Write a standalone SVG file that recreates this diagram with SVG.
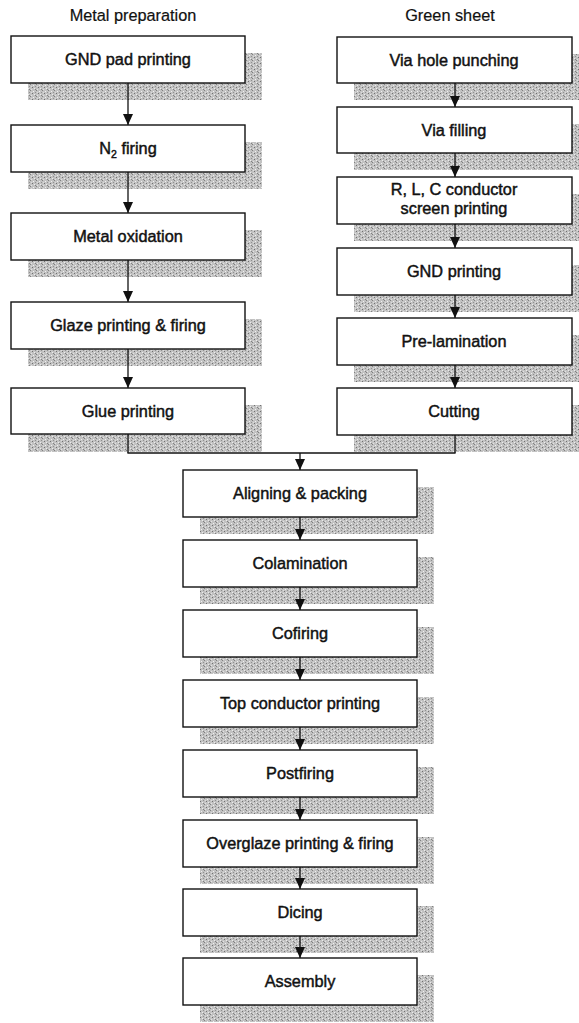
<svg xmlns="http://www.w3.org/2000/svg" width="579" height="1023" viewBox="0 0 579 1023">
<style>
.box{fill:#fff;stroke:#111;stroke-width:1.4}
.sh{fill:url(#stip)}
.t{font-family:"Liberation Sans",Arial,sans-serif;font-size:16.3px;fill:#111;stroke:#111;stroke-width:0.45;text-anchor:middle}
.h{font-family:"Liberation Sans",Arial,sans-serif;font-size:16.3px;fill:#111;stroke:#111;stroke-width:0.2;text-anchor:middle}
.c{fill:none;stroke:#111;stroke-width:1.3}
</style>
<defs>
<pattern id="stip" width="6" height="6" patternUnits="userSpaceOnUse">
<rect width="6" height="6" fill="#c2c2c2"/>
<rect x="0" y="0" width="1" height="1" fill="#808080"/>
<rect x="3" y="1" width="1" height="1" fill="#f0f0f0"/>
<rect x="2" y="3" width="1" height="1" fill="#707070"/>
<rect x="5" y="2" width="1" height="1" fill="#909090"/>
<rect x="4" y="4" width="1" height="1" fill="#ececec"/>
<rect x="1" y="5" width="1" height="1" fill="#e4e4e4"/>
<rect x="5" y="5" width="1" height="1" fill="#808080"/>
<rect x="1" y="2" width="1" height="1" fill="#dcdcdc"/>
</pattern>
<marker id="ah" markerUnits="userSpaceOnUse" markerWidth="11" markerHeight="11" refX="11" refY="5" orient="auto">
<path d="M0,0 L11,5 L0,10 z" fill="#111"/>
</marker>
</defs>

<text class="h" x="133" y="21">Metal preparation</text>
<text class="h" x="450" y="21">Green sheet</text>

<g id="shadows">
<rect class="sh" x="28" y="53" width="234" height="47"/>
<rect class="sh" x="28" y="142" width="234" height="47"/>
<rect class="sh" x="28" y="230" width="234" height="47"/>
<rect class="sh" x="28" y="319" width="234" height="47"/>
<rect class="sh" x="28" y="405" width="234" height="47"/>
<rect class="sh" x="354" y="54" width="235" height="46"/>
<rect class="sh" x="354" y="124" width="235" height="46"/>
<rect class="sh" x="354" y="194" width="235" height="47"/>
<rect class="sh" x="354" y="265" width="235" height="47"/>
<rect class="sh" x="354" y="335" width="235" height="47"/>
<rect class="sh" x="354" y="405" width="235" height="47"/>
<rect class="sh" x="200" y="487" width="234" height="47"/>
<rect class="sh" x="200" y="557" width="234" height="47"/>
<rect class="sh" x="200" y="627" width="234" height="47"/>
<rect class="sh" x="200" y="697" width="234" height="47"/>
<rect class="sh" x="200" y="767" width="234" height="47"/>
<rect class="sh" x="200" y="837" width="234" height="47"/>
<rect class="sh" x="200" y="906" width="234" height="47"/>
<rect class="sh" x="200" y="975" width="234" height="47"/>
</g>

<g id="connectors">
<line class="c" x1="128" y1="83" x2="128" y2="125" marker-end="url(#ah)"/>
<line class="c" x1="128" y1="172" x2="128" y2="213" marker-end="url(#ah)"/>
<line class="c" x1="128" y1="260" x2="128" y2="302" marker-end="url(#ah)"/>
<line class="c" x1="128" y1="349" x2="128" y2="388" marker-end="url(#ah)"/>
<line class="c" x1="128" y1="434" x2="128" y2="453"/>
<line class="c" x1="455" y1="83" x2="455" y2="107" marker-end="url(#ah)"/>
<line class="c" x1="455" y1="153" x2="455" y2="177" marker-end="url(#ah)"/>
<line class="c" x1="455" y1="224" x2="455" y2="248" marker-end="url(#ah)"/>
<line class="c" x1="455" y1="295" x2="455" y2="318" marker-end="url(#ah)"/>
<line class="c" x1="455" y1="365" x2="455" y2="388" marker-end="url(#ah)"/>
<line class="c" x1="455" y1="435" x2="455" y2="453"/>
<line class="c" x1="127.4" y1="453" x2="455.6" y2="453"/>
<line class="c" x1="300" y1="453" x2="300" y2="470" marker-end="url(#ah)"/>
<line class="c" x1="300" y1="517" x2="300" y2="540" marker-end="url(#ah)"/>
<line class="c" x1="300" y1="587" x2="300" y2="610" marker-end="url(#ah)"/>
<line class="c" x1="300" y1="657" x2="300" y2="680" marker-end="url(#ah)"/>
<line class="c" x1="300" y1="727" x2="300" y2="750" marker-end="url(#ah)"/>
<line class="c" x1="300" y1="797" x2="300" y2="820" marker-end="url(#ah)"/>
<line class="c" x1="300" y1="867" x2="300" y2="889" marker-end="url(#ah)"/>
<line class="c" x1="300" y1="936" x2="300" y2="958" marker-end="url(#ah)"/>
</g>

<g id="n_gnd_pad"><rect class="box" x="11" y="36" width="234" height="47"/><text class="t" x="128" y="65">GND pad printing</text></g>
<g id="n_n2_firing"><rect class="box" x="11" y="125" width="234" height="47"/><text class="t" x="128" y="154">N<tspan font-size="10.5" dy="4">2</tspan><tspan dy="-4"> firing</tspan></text></g>
<g id="n_metal_oxidation"><rect class="box" x="11" y="213" width="234" height="47"/><text class="t" x="128" y="242">Metal oxidation</text></g>
<g id="n_glaze"><rect class="box" x="11" y="302" width="234" height="47"/><text class="t" x="128" y="331">Glaze printing &amp; firing</text></g>
<g id="n_glue"><rect class="box" x="11" y="388" width="234" height="46"/><text class="t" x="128" y="417">Glue printing</text></g>

<g id="n_via_punch"><rect class="box" x="337" y="37" width="235" height="46"/><text class="t" x="454" y="66">Via hole punching</text></g>
<g id="n_via_fill"><rect class="box" x="337" y="107" width="235" height="46"/><text class="t" x="454" y="136">Via filling</text></g>
<g id="n_rlc"><rect class="box" x="337" y="177" width="235" height="47"/><text class="t" x="454" y="195">R, L, C conductor</text><text class="t" x="454" y="214">screen printing</text></g>
<g id="n_gnd_print"><rect class="box" x="337" y="248" width="235" height="47"/><text class="t" x="454" y="277">GND printing</text></g>
<g id="n_prelam"><rect class="box" x="337" y="318" width="235" height="47"/><text class="t" x="454" y="347">Pre-lamination</text></g>
<g id="n_cutting"><rect class="box" x="337" y="388" width="235" height="47"/><text class="t" x="454" y="417">Cutting</text></g>

<g id="n_aligning"><rect class="box" x="183" y="470" width="234" height="47"/><text class="t" x="300" y="499">Aligning &amp; packing</text></g>
<g id="n_colamination"><rect class="box" x="183" y="540" width="234" height="47"/><text class="t" x="300" y="569">Colamination</text></g>
<g id="n_cofiring"><rect class="box" x="183" y="610" width="234" height="47"/><text class="t" x="300" y="639">Cofiring</text></g>
<g id="n_top_conductor"><rect class="box" x="183" y="680" width="234" height="47"/><text class="t" x="300" y="709">Top conductor printing</text></g>
<g id="n_postfiring"><rect class="box" x="183" y="750" width="234" height="47"/><text class="t" x="300" y="779">Postfiring</text></g>
<g id="n_overglaze"><rect class="box" x="183" y="820" width="234" height="47"/><text class="t" x="300" y="849">Overglaze printing &amp; firing</text></g>
<g id="n_dicing"><rect class="box" x="183" y="889" width="234" height="47"/><text class="t" x="300" y="918">Dicing</text></g>
<g id="n_assembly"><rect class="box" x="183" y="958" width="234" height="47"/><text class="t" x="300" y="987">Assembly</text></g>
</svg>
